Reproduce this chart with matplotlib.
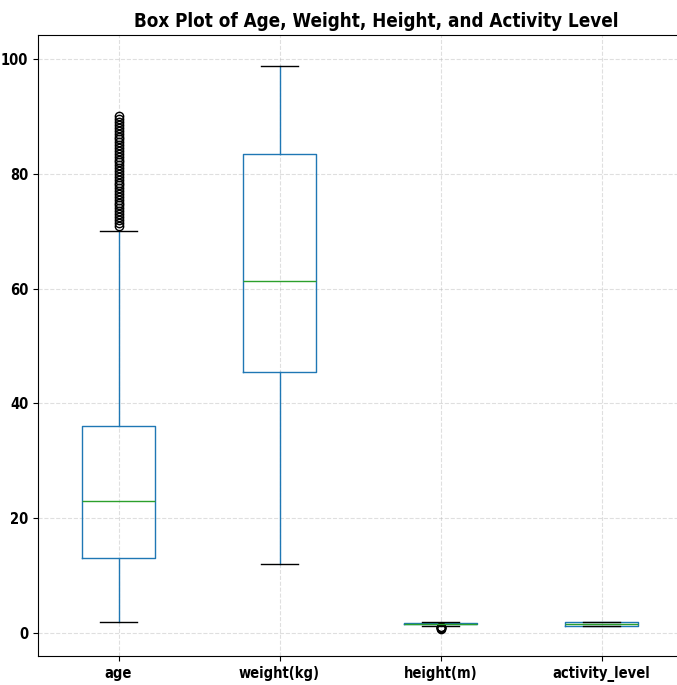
import matplotlib
matplotlib.use("Agg")
import matplotlib.pyplot as plt

# Column names as shown on the x axis
columns = ["age", "weight(kg)", "height(m)", "activity_level"]

# Five-number summaries
whisker_low = [2.0, 12.0, 1.2, 1.2]
q1 = [13.0, 45.5, 1.5, 1.2]
median = [23.0, 61.3, 1.65, 1.55]
q3 = [36.0, 83.5, 1.8, 1.9]
whisker_high = [70.0, 98.8, 2.0, 1.9]

# Outliers
age_fliers = [71, 71.5, 72, 72.5, 73, 73.5, 74, 74.5, 75, 75.5, 76, 76.5, 77, 77.5,
              78, 78.5, 79, 79.5, 80, 80.5, 81, 81.5, 82, 82.5, 83, 83.5, 84, 84.5,
              85, 85.5, 86, 86.5, 87, 87.5, 88, 88.5, 89, 89.5, 90]
weight_fliers = []
height_fliers = [0.7, 0.8, 0.9, 1.0, 1.05, 1.1]
activity_fliers = []
fliers = [age_fliers, weight_fliers, height_fliers, activity_fliers]

yticks = [0, 20, 40, 60, 80, 100]

stats = []
for i, name in enumerate(columns):
    stats.append({
        "label": name,
        "whislo": whisker_low[i],
        "q1": q1[i],
        "med": median[i],
        "q3": q3[i],
        "whishi": whisker_high[i],
        "fliers": fliers[i],
    })

fig = plt.figure(figsize=(6.77, 6.85), dpi=100)
# the right edge of the axes runs past the figure, as in the cropped original
ax = fig.add_axes([38 / 677, 1 - 656 / 685, 652 / 677, (656 - 35) / 685])

ax.bxp(
    stats,
    widths=0.45,
    boxprops={"color": "C0"},
    whiskerprops={"color": "C0"},
    medianprops={"color": "C2"},
    capprops={"color": "k"},
    flierprops={"marker": "o", "markerfacecolor": "none", "markeredgecolor": "k", "markersize": 6},
)

ax.set_xlim(0.5, 0.5 + 652 / 161)
ax.set_ylim(-4.0, 104.2)
ax.set_yticks(yticks)
ax.grid(True, linestyle="--", alpha=0.4)
ax.set_title("Box Plot of Age, Weight, Height, and Activity Level",
             fontsize=13.5, fontweight="bold", fontstretch="condensed",
             x=(376 - 38) / 652)
for lab in ax.get_xticklabels() + ax.get_yticklabels():
    lab.set_fontweight("bold")
    lab.set_fontstretch("condensed")
    lab.set_fontsize(10.5)

fig.savefig("out.png", dpi=100)
